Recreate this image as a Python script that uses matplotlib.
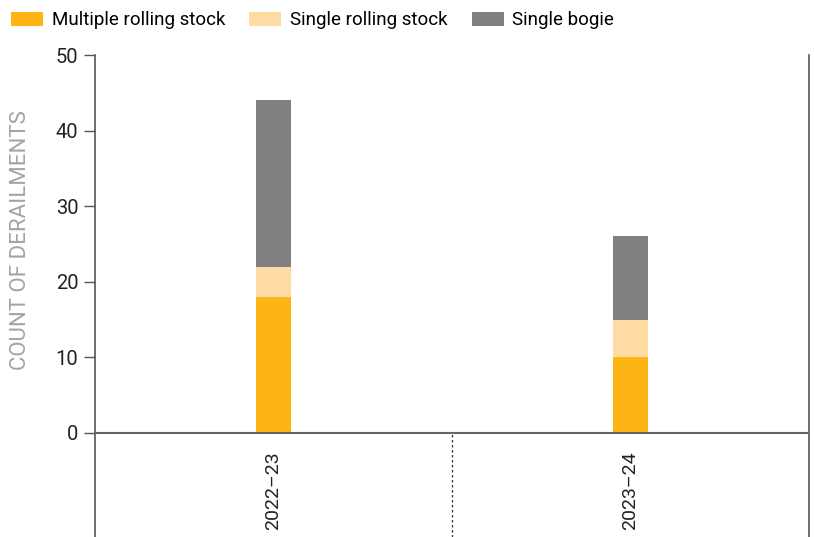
import matplotlib
matplotlib.use("Agg")
import matplotlib.pyplot as plt
from matplotlib.patches import Patch

plt.rcParams['font.family'] = ['Roboto', 'DejaVu Sans']

# data
years = ["2022\u201323", "2023\u201324"]
multiple_rolling = [18, 10]
single_rolling = [4, 5]
single_bogie = [22, 11]

series_names = ["Multiple rolling stock", "Single rolling stock", "Single bogie"]
colors = ["#FDB515", "#FFDCA3", "#808083"]

fig = plt.figure(figsize=(8.14, 5.37), dpi=100)
ax = fig.add_axes([95 / 814, 0.0, (809 - 95) / 814, (537 - 55) / 537])

x = list(range(len(years)))
width = 0.098
bottom2 = [a + b for a, b in zip(multiple_rolling, single_rolling)]
ax.bar(x, multiple_rolling, width, color=colors[0], zorder=2)
ax.bar(x, single_rolling, width, bottom=multiple_rolling, color=colors[1], zorder=2)
ax.bar(x, single_bogie, width, bottom=bottom2, color=colors[2], zorder=2)

ymin = -(537 - 433) / ((433 - 55) / 50)
ax.set_ylim(ymin, 50)
ax.set_xlim(-0.5, len(years) - 0.5)

ax.axhline(0, color="#666666", lw=1.5, zorder=3)
for i in range(1, len(years)):
    ax.plot([i - 0.5, i - 0.5], [ymin, 0], color="#333333", lw=0.9,
            linestyle=(0, (2, 2)), zorder=3)

for xi, label in zip(x, years):
    ax.text(xi, -2.4, label, rotation=90, ha="center", va="top",
            fontsize=14, color="#222222")

ax.set_yticks([0, 10, 20, 30, 40, 50])
ax.set_yticklabels(["0", "10", "20", "30", "40", "50"], fontsize=14.5,
                   color="#222222")
ax.set_xticks([])
ax.tick_params(axis="y", length=8, width=1, color="#555555", pad=4)

for side in ["left", "right"]:
    ax.spines[side].set_color("#555555")
    ax.spines[side].set_linewidth(1.2)
ax.spines["top"].set_visible(False)
ax.spines["bottom"].set_visible(False)

fig.text(21 / 814, (537 - 240) / 537, "COUNT OF DERAILMENTS", rotation=90,
         ha="center", va="center", fontsize=16, color="#A3A3A3")

handles = [Patch(facecolor=c, edgecolor="none") for c in colors]
fig.legend(handles, series_names, loc="upper left", bbox_to_anchor=(0.0, 1.0),
           ncol=3, frameon=False, prop={"size": 13.5},
           handlelength=1.7, handleheight=0.75,
           handletextpad=0.45, columnspacing=1.3, borderaxespad=0.2)

fig.savefig("out.png", dpi=100)
